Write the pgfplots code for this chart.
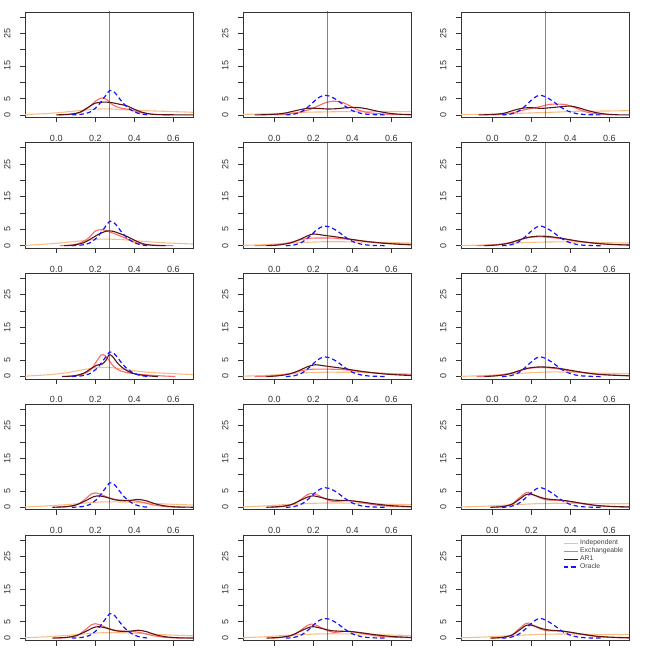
\documentclass[border=0pt]{standalone}
\usepackage{fontspec}
\setmainfont{Liberation Sans}
\usepackage{pgfplots}
\pgfplotsset{compat=1.18}

\definecolor{indcol}{RGB}{246,190,135}
\definecolor{exchcol}{RGB}{255,106,106}
\definecolor{arcol}{RGB}{90,20,20}
\definecolor{orcol}{RGB}{20,20,255}

\pgfplotsset{
  panel/.style={
    scale only axis, width=168pt, height=105.5pt, anchor=south west,
    xmin=-0.16, xmax=0.70, ymin=-0.8, ymax=31.5,
    xtick={0,0.2,0.4,0.6}, xticklabels={0.0,0.2,0.4,0.6},
    ytick={0,5,10,15,20,25,30}, yticklabels={0,5,,15,,25,},
    tick align=outside, tick pos=left, major tick length=5pt,
    axis line style={black!80, line width=0.8pt},
    every tick/.style={black!80, line width=0.7pt},
    tick label style={font=\fontsize{9}{10}\selectfont, text=black!80},
    xticklabel style={yshift=-9pt},
    yticklabel style={rotate=90, anchor=south, yshift=6pt},
    every axis plot/.append style={no markers, smooth, tension=0.5},
  },
  shortleg/.style={
    legend style={at={(0.985,0.985)}, anchor=north east, draw=none, fill=none,
      font=\fontsize{6.8}{7}\selectfont, text=black!75, row sep=-2.4pt, inner sep=1pt},
    legend cell align=left,
    legend image code/.code={\draw[##1] (0pt,0pt) -- (14pt,0pt);},
  },
  ind/.style={indcol, line width=1.1pt},
  exch/.style={exchcol, line width=1.1pt},
  arone/.style={arcol, line width=1.1pt},
  oracle/.style={orcol, line width=1.2pt, dash pattern=on 4.5pt off 3pt},
  vline/.style={black!75, line width=0.9pt},
}

% #1 position, #2 extra options, #3 Independent, #4 Exchangeable, #5 AR1, #6 Oracle, #7 extra
\newcommand{\panel}[7]{%
  \begin{axis}[panel, at={(#1)}, #2]
    \addplot[ind] coordinates {#3};
    \addplot[exch] coordinates {#4};
    \addplot[arone] coordinates {#5};
    \addplot[oracle] coordinates {#6};
    \addplot[vline] coordinates {(0.27,-5) (0.27,40)};
    #7
  \end{axis}}

\begin{document}
\begin{tikzpicture}
\useasboundingbox (0,0) rectangle (654pt,654pt);

% ---- row 1
\panel{25pt,536.5pt}{}
 {(-0.16,0.1)(-0.05,0.4)(0.05,0.9)(0.15,1.5)(0.22,1.8)(0.28,1.8)(0.35,1.6)(0.45,1.3)(0.55,1.1)(0.7,0.8)}
 {(0.01,0)(0.08,0.2)(0.13,0.9)(0.17,2.5)(0.2,4.2)(0.235,5.2)(0.26,4.6)(0.29,3.0)(0.33,2.1)(0.37,1.7)(0.41,1.0)(0.46,0.4)(0.52,0.1)(0.58,0)}
 {(0,0)(0.07,0.2)(0.12,0.8)(0.16,2.2)(0.2,3.6)(0.24,3.9)(0.28,3.8)(0.32,3.3)(0.36,2.8)(0.40,1.7)(0.44,0.8)(0.49,0.2)(0.55,0.05)(0.7,0)}
 {(0.08,0)(0.13,0.2)(0.17,0.8)(0.21,2.6)(0.245,5.3)(0.275,7.5)(0.30,6.8)(0.33,4.5)(0.36,2.5)(0.40,0.9)(0.44,0.2)(0.48,0)}
 {}
\panel{243pt,536.5pt}{}
 {(-0.16,0.15)(-0.05,0.3)(0.05,0.5)(0.15,0.8)(0.25,0.9)(0.35,1.0)(0.45,1.05)(0.55,1.05)(0.7,1.0)}
 {(0.0,0)(0.06,0.2)(0.12,0.7)(0.18,1.6)(0.23,2.9)(0.27,3.9)(0.31,4.2)(0.35,3.8)(0.39,2.7)(0.43,1.5)(0.48,0.7)(0.55,0.3)(0.62,0.1)(0.7,0.05)}
 {(-0.1,0)(-0.02,0.1)(0.05,0.5)(0.11,1.3)(0.17,2.0)(0.22,2.0)(0.27,1.8)(0.32,1.9)(0.37,2.2)(0.42,2.3)(0.47,1.9)(0.53,1.1)(0.6,0.4)(0.66,0.15)(0.7,0.1)}
 {(0.06,0)(0.1,0.2)(0.14,1)(0.18,2.8)(0.22,5)(0.25,5.9)(0.28,5.8)(0.32,4.6)(0.36,2.8)(0.40,1.3)(0.45,0.4)(0.5,0.1)(0.57,0)}
 {}
\panel{461pt,536.5pt}{}
 {(-0.16,0.1)(-0.05,0.2)(0.05,0.35)(0.15,0.5)(0.25,0.7)(0.35,0.9)(0.42,1.1)(0.5,1.15)(0.6,1.2)(0.7,1.3)}
 {(0.0,0)(0.06,0.2)(0.11,0.7)(0.16,1.5)(0.21,2.1)(0.25,2.6)(0.29,3.2)(0.34,3.3)(0.38,3.1)(0.42,2.3)(0.46,1.3)(0.5,0.6)(0.56,0.2)(0.62,0.05)}
 {(-0.07,0)(0.0,0.1)(0.06,0.5)(0.11,1.4)(0.16,2.1)(0.2,2.2)(0.25,2.0)(0.3,2.2)(0.35,2.5)(0.4,2.7)(0.44,2.2)(0.49,1.3)(0.54,0.6)(0.6,0.15)(0.66,0)(0.7,0)}
 {(0.05,0)(0.09,0.2)(0.13,1)(0.17,2.8)(0.21,5)(0.24,6)(0.27,5.6)(0.31,4.2)(0.35,2.4)(0.39,1.1)(0.44,0.3)(0.5,0.05)(0.56,0)}
 {}

% ---- row 2
\panel{25pt,405.7pt}{}
 {(-0.16,0.1)(-0.05,0.5)(0.05,1.0)(0.15,1.6)(0.22,2.0)(0.28,2.0)(0.35,1.8)(0.45,1.3)(0.55,0.9)(0.7,0.5)}
 {(0.02,0)(0.08,0.2)(0.13,1.0)(0.17,2.6)(0.2,4.5)(0.235,4.9)(0.27,4.3)(0.31,3.4)(0.35,2.4)(0.39,1.3)(0.43,0.6)(0.48,0.2)(0.55,0.05)(0.6,0)}
 {(0.04,0)(0.09,0.2)(0.14,0.9)(0.18,2.2)(0.22,3.6)(0.26,4.5)(0.29,4.4)(0.33,3.6)(0.37,2.6)(0.41,1.4)(0.45,0.5)(0.5,0.1)(0.56,0)}
 {(0.08,0)(0.13,0.2)(0.17,0.8)(0.21,2.6)(0.245,5.3)(0.275,7.5)(0.30,6.8)(0.33,4.5)(0.36,2.5)(0.40,0.9)(0.44,0.2)(0.48,0)}
 {}
\panel{243pt,405.7pt}{}
 {(-0.16,0.1)(-0.05,0.3)(0.05,0.7)(0.15,1.0)(0.25,1.2)(0.35,1.2)(0.45,1.1)(0.55,1.0)(0.7,0.8)}
 {(-0.1,0)(-0.03,0.1)(0.03,0.4)(0.09,1.1)(0.14,1.9)(0.19,2.3)(0.25,2.35)(0.31,2.3)(0.37,2.0)(0.43,1.6)(0.5,1.1)(0.58,0.7)(0.7,0.4)}
 {(-0.04,0)(0.02,0.2)(0.08,0.8)(0.13,1.9)(0.17,3.0)(0.2,3.6)(0.24,3.3)(0.29,2.9)(0.34,2.5)(0.4,1.9)(0.47,1.3)(0.55,0.8)(0.62,0.5)(0.7,0.25)}
 {(0.06,0)(0.1,0.2)(0.14,1)(0.18,2.8)(0.22,5)(0.25,5.9)(0.28,5.8)(0.32,4.6)(0.36,2.8)(0.40,1.3)(0.45,0.4)(0.5,0.1)(0.57,0)}
 {}
\panel{461pt,405.7pt}{}
 {(-0.16,0.05)(-0.05,0.2)(0.05,0.5)(0.15,0.9)(0.25,1.1)(0.35,1.15)(0.45,1.1)(0.55,0.95)(0.7,0.8)}
 {(-0.08,0)(-0.02,0.1)(0.04,0.4)(0.1,1.1)(0.15,2.0)(0.2,2.6)(0.25,2.7)(0.3,2.5)(0.36,2.1)(0.42,1.5)(0.5,0.9)(0.58,0.5)(0.7,0.2)}
 {(-0.04,0)(0.02,0.2)(0.08,0.7)(0.13,1.6)(0.18,2.5)(0.23,2.9)(0.28,2.85)(0.33,2.5)(0.39,1.9)(0.45,1.3)(0.52,0.8)(0.6,0.4)(0.7,0.2)}
 {(0.05,0)(0.09,0.2)(0.13,1)(0.17,2.8)(0.21,5)(0.24,6)(0.27,5.6)(0.31,4.2)(0.35,2.4)(0.39,1.1)(0.44,0.3)(0.5,0.05)(0.56,0)}
 {}

% ---- row 3
\panel{25pt,274.9pt}{}
 {(-0.16,0.1)(-0.05,0.5)(0.05,1.1)(0.13,2.0)(0.2,2.7)(0.25,2.8)(0.3,2.6)(0.37,2.0)(0.45,1.4)(0.55,1.0)(0.7,0.6)}
 {(0.04,0)(0.1,0.2)(0.15,1.0)(0.18,2.3)(0.205,4.5)(0.23,6.6)(0.25,6.4)(0.27,5.0)(0.295,3.0)(0.33,1.7)(0.37,1.1)(0.42,0.7)(0.48,0.4)(0.55,0.15)(0.61,0)}
 {(0.03,0)(0.09,0.2)(0.14,1.0)(0.18,2.5)(0.21,3.5)(0.235,3.8)(0.255,5.0)(0.272,6.7)(0.29,6.0)(0.315,4.0)(0.35,2.2)(0.39,1.0)(0.44,0.4)(0.5,0.05)(0.52,0)}
 {(0.08,0)(0.13,0.2)(0.17,0.8)(0.21,2.6)(0.245,5.3)(0.275,7.5)(0.30,6.8)(0.33,4.5)(0.36,2.5)(0.40,0.9)(0.44,0.2)(0.48,0)}
 {}
\panel{243pt,274.9pt}{}
 {(-0.16,0.1)(-0.05,0.3)(0.05,0.7)(0.15,1.1)(0.25,1.3)(0.35,1.3)(0.45,1.2)(0.55,1.0)(0.7,0.8)}
 {(-0.1,0)(-0.03,0.1)(0.03,0.4)(0.09,1.0)(0.14,1.8)(0.19,2.2)(0.25,2.25)(0.31,2.2)(0.37,2.0)(0.43,1.6)(0.5,1.2)(0.58,0.8)(0.7,0.45)}
 {(-0.04,0)(0.02,0.2)(0.08,0.8)(0.13,1.9)(0.17,3.0)(0.21,3.6)(0.25,3.3)(0.3,2.9)(0.35,2.5)(0.41,1.9)(0.48,1.3)(0.56,0.8)(0.63,0.5)(0.7,0.3)}
 {(0.06,0)(0.1,0.2)(0.14,1)(0.18,2.8)(0.22,5)(0.25,5.9)(0.28,5.8)(0.32,4.6)(0.36,2.8)(0.40,1.3)(0.45,0.4)(0.5,0.1)(0.57,0)}
 {}
\panel{461pt,274.9pt}{}
 {(-0.16,0.05)(-0.05,0.25)(0.05,0.6)(0.15,1.0)(0.25,1.3)(0.32,1.4)(0.4,1.3)(0.5,1.1)(0.6,0.95)(0.7,0.85)}
 {(-0.08,0)(-0.02,0.1)(0.04,0.4)(0.1,1.1)(0.15,2.0)(0.2,2.6)(0.25,2.75)(0.3,2.6)(0.36,2.1)(0.42,1.5)(0.5,0.9)(0.58,0.5)(0.7,0.25)}
 {(-0.04,0)(0.02,0.2)(0.08,0.7)(0.13,1.6)(0.18,2.5)(0.23,2.9)(0.27,2.9)(0.33,2.6)(0.39,2.0)(0.45,1.4)(0.52,0.8)(0.6,0.45)(0.7,0.2)}
 {(0.05,0)(0.09,0.2)(0.13,1)(0.17,2.8)(0.21,5)(0.24,6)(0.27,5.6)(0.31,4.2)(0.35,2.4)(0.39,1.1)(0.44,0.3)(0.5,0.05)(0.56,0)}
 {}

% ---- row 4
\panel{25pt,144.1pt}{}
 {(-0.16,0.1)(-0.05,0.4)(0.05,0.8)(0.15,1.3)(0.22,1.6)(0.3,1.65)(0.4,1.5)(0.5,1.2)(0.6,0.9)(0.7,0.7)}
 {(0.0,0)(0.06,0.2)(0.11,0.9)(0.15,2.6)(0.18,4.1)(0.2,4.4)(0.23,3.9)(0.27,2.9)(0.31,2.3)(0.36,2.1)(0.41,1.9)(0.45,1.4)(0.5,0.7)(0.56,0.2)(0.62,0.05)(0.66,0)}
 {(-0.02,0)(0.05,0.2)(0.1,0.7)(0.15,2.0)(0.19,3.2)(0.22,3.5)(0.26,3.0)(0.3,2.3)(0.35,2.0)(0.39,2.2)(0.42,2.4)(0.46,2.0)(0.51,1.0)(0.56,0.4)(0.62,0.1)(0.7,0.02)}
 {(0.08,0)(0.13,0.2)(0.17,0.8)(0.21,2.6)(0.245,5.3)(0.275,7.5)(0.30,6.8)(0.33,4.5)(0.36,2.5)(0.40,0.9)(0.44,0.2)(0.48,0)}
 {}
\panel{243pt,144.1pt}{}
 {(-0.16,0.1)(-0.05,0.4)(0.05,0.8)(0.15,1.1)(0.25,1.3)(0.35,1.3)(0.45,1.2)(0.55,1.0)(0.7,0.8)}
 {(-0.02,0)(0.04,0.2)(0.1,1.0)(0.14,2.6)(0.17,3.9)(0.19,4.3)(0.22,3.8)(0.26,2.6)(0.3,1.8)(0.34,1.9)(0.37,2.1)(0.41,1.9)(0.46,1.3)(0.52,0.7)(0.6,0.3)(0.7,0.1)}
 {(-0.04,0)(0.02,0.2)(0.08,0.7)(0.13,2.0)(0.17,3.1)(0.2,3.5)(0.24,3.0)(0.29,2.3)(0.34,2.1)(0.39,2.0)(0.45,1.6)(0.52,1.0)(0.6,0.5)(0.7,0.2)}
 {(0.06,0)(0.1,0.2)(0.14,1)(0.18,2.8)(0.22,5)(0.25,5.9)(0.28,5.8)(0.32,4.6)(0.36,2.8)(0.40,1.3)(0.45,0.4)(0.5,0.1)(0.57,0)}
 {}
\panel{461pt,144.1pt}{}
 {(-0.16,0.1)(-0.05,0.3)(0.05,0.6)(0.15,0.9)(0.25,1.15)(0.35,1.25)(0.45,1.2)(0.55,1.1)(0.7,1.1)}
 {(0.0,0)(0.05,0.2)(0.1,1.0)(0.14,3.0)(0.17,4.4)(0.185,4.6)(0.21,3.9)(0.25,2.7)(0.29,2.2)(0.33,2.2)(0.37,2.0)(0.42,1.5)(0.48,0.9)(0.55,0.4)(0.62,0.15)(0.7,0.05)}
 {(-0.01,0)(0.05,0.2)(0.1,0.9)(0.14,2.5)(0.17,3.8)(0.19,4.1)(0.22,3.6)(0.26,2.8)(0.3,2.4)(0.35,2.2)(0.4,1.8)(0.46,1.2)(0.53,0.6)(0.6,0.3)(0.7,0.1)}
 {(0.05,0)(0.09,0.2)(0.13,1)(0.17,2.8)(0.21,5)(0.24,6)(0.27,5.6)(0.31,4.2)(0.35,2.4)(0.39,1.1)(0.44,0.3)(0.5,0.05)(0.56,0)}
 {}

% ---- row 5
\panel{25pt,13.3pt}{xticklabels={}}
 {(-0.16,0.1)(-0.05,0.4)(0.05,0.8)(0.15,1.3)(0.22,1.6)(0.3,1.65)(0.4,1.5)(0.5,1.2)(0.6,0.9)(0.7,0.7)}
 {(0.0,0)(0.06,0.2)(0.11,0.9)(0.15,2.6)(0.18,4.1)(0.2,4.4)(0.23,3.9)(0.27,2.9)(0.31,2.3)(0.36,2.1)(0.41,1.9)(0.45,1.4)(0.5,0.7)(0.56,0.2)(0.62,0.05)(0.66,0)}
 {(-0.02,0)(0.05,0.2)(0.1,0.7)(0.15,2.0)(0.19,3.2)(0.22,3.5)(0.26,3.0)(0.3,2.3)(0.35,2.0)(0.39,2.2)(0.42,2.4)(0.46,2.0)(0.51,1.0)(0.56,0.4)(0.62,0.1)(0.7,0.02)}
 {(0.08,0)(0.13,0.2)(0.17,0.8)(0.21,2.6)(0.245,5.3)(0.275,7.5)(0.30,6.8)(0.33,4.5)(0.36,2.5)(0.40,0.9)(0.44,0.2)(0.48,0)}
 {}
\panel{243pt,13.3pt}{xticklabels={}}
 {(-0.16,0.1)(-0.05,0.4)(0.05,0.8)(0.15,1.1)(0.25,1.3)(0.35,1.3)(0.45,1.2)(0.55,1.0)(0.7,0.8)}
 {(-0.02,0)(0.04,0.2)(0.1,1.0)(0.14,2.6)(0.17,3.9)(0.19,4.3)(0.22,3.8)(0.26,2.6)(0.3,1.8)(0.34,1.9)(0.37,2.1)(0.41,1.9)(0.46,1.3)(0.52,0.7)(0.6,0.3)(0.7,0.1)}
 {(-0.04,0)(0.02,0.2)(0.08,0.7)(0.13,2.0)(0.17,3.1)(0.2,3.5)(0.24,3.0)(0.29,2.3)(0.34,2.1)(0.39,2.0)(0.45,1.6)(0.52,1.0)(0.6,0.5)(0.7,0.2)}
 {(0.06,0)(0.1,0.2)(0.14,1)(0.18,2.8)(0.22,5)(0.25,5.9)(0.28,5.8)(0.32,4.6)(0.36,2.8)(0.40,1.3)(0.45,0.4)(0.5,0.1)(0.57,0)}
 {}
\panel{461pt,13.3pt}{xticklabels={}, shortleg}
 {(-0.16,0.1)(-0.05,0.3)(0.05,0.6)(0.15,0.9)(0.25,1.15)(0.35,1.25)(0.45,1.2)(0.55,1.1)(0.7,1.1)}
 {(0.0,0)(0.05,0.2)(0.1,1.0)(0.14,3.0)(0.17,4.4)(0.185,4.6)(0.21,3.9)(0.25,2.7)(0.29,2.2)(0.33,2.2)(0.37,2.0)(0.42,1.5)(0.48,0.9)(0.55,0.4)(0.62,0.15)(0.7,0.05)}
 {(-0.01,0)(0.05,0.2)(0.1,0.9)(0.14,2.5)(0.17,3.8)(0.19,4.1)(0.22,3.6)(0.26,2.8)(0.3,2.4)(0.35,2.2)(0.4,1.8)(0.46,1.2)(0.53,0.6)(0.6,0.3)(0.7,0.1)}
 {(0.05,0)(0.09,0.2)(0.13,1)(0.17,2.8)(0.21,5)(0.24,6)(0.27,5.6)(0.31,4.2)(0.35,2.4)(0.39,1.1)(0.44,0.3)(0.5,0.05)(0.56,0)}
 {\legend{Independent,Exchangeable,AR1,Oracle}}

\end{tikzpicture}
\end{document}
